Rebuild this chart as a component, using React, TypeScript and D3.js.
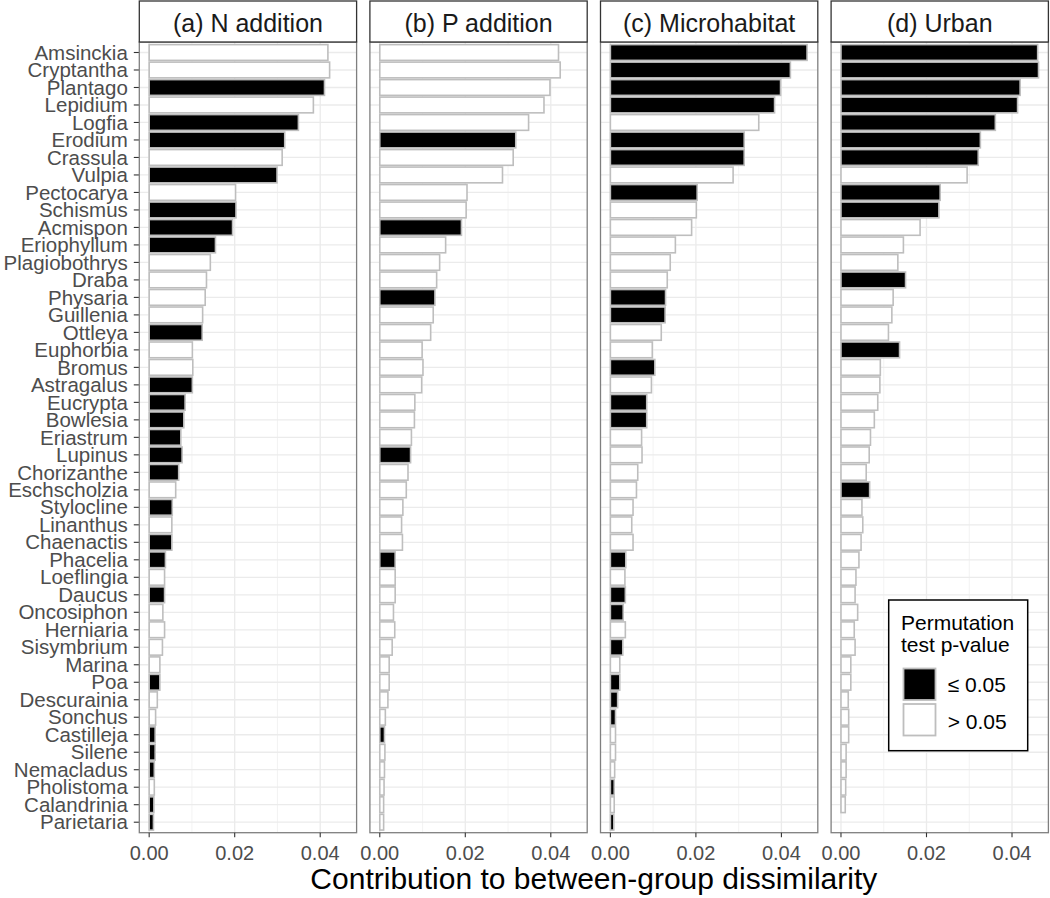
import React from "react";
import * as d3 from "d3";

const categories = [
  "Amsinckia", "Cryptantha", "Plantago", "Lepidium", "Logfia", "Erodium", "Crassula", "Vulpia",
  "Pectocarya", "Schismus", "Acmispon", "Eriophyllum", "Plagiobothrys", "Draba", "Physaria",
  "Guillenia", "Ottleya", "Euphorbia", "Bromus", "Astragalus", "Eucrypta", "Bowlesia", "Eriastrum",
  "Lupinus", "Chorizanthe", "Eschscholzia", "Stylocline", "Linanthus", "Chaenactis", "Phacelia",
  "Loeflingia", "Daucus", "Oncosiphon", "Herniaria", "Sisymbrium", "Marina", "Poa", "Descurainia",
  "Sonchus", "Castilleja", "Silene", "Nemacladus", "Pholistoma", "Calandrinia", "Parietaria",
];

const panelTitles = ["(a) N addition", "(b) P addition", "(c) Microhabitat", "(d) Urban"];

const nAddition = [
  0.0418, 0.0422, 0.0410, 0.0384, 0.0349, 0.0317, 0.0311, 0.0299, 0.0202, 0.0203, 0.0195, 0.0155,
  0.0143, 0.0134, 0.0131, 0.0125, 0.0124, 0.0101, 0.0102, 0.0101, 0.0084, 0.0081, 0.0074, 0.0077,
  0.0069, 0.0062, 0.0054, 0.0053, 0.0053, 0.0038, 0.0036, 0.0036, 0.0032, 0.0036, 0.0031, 0.0025,
  0.0025, 0.0019, 0.0015, 0.0014, 0.0014, 0.0012, 0.0012, 0.0011, 0.0010,
];
const nSig = [
  0, 0, 1, 0, 1, 1, 0, 1, 0, 1, 1, 1, 0, 0, 0, 0, 1, 0, 0, 1, 1, 1, 1, 1, 1, 0, 1, 0, 1, 1, 0, 1,
  0, 0, 0, 0, 1, 0, 0, 1, 1, 1, 0, 1, 1,
];

const pAddition = [
  0.0418, 0.0422, 0.0398, 0.0384, 0.0348, 0.0318, 0.0312, 0.0287, 0.0204, 0.0202, 0.0191, 0.0154,
  0.0140, 0.0133, 0.0129, 0.0125, 0.0119, 0.0099, 0.0101, 0.0098, 0.0082, 0.0081, 0.0074, 0.0072,
  0.0066, 0.0062, 0.0054, 0.0051, 0.0053, 0.0036, 0.0036, 0.0036, 0.0032, 0.0035, 0.0029, 0.0022,
  0.0022, 0.0019, 0.0013, 0.0011, 0.0012, 0.0011, 0.0010, 0.0009, 0.0009,
];
const pSig = [
  0, 0, 0, 0, 0, 1, 0, 0, 0, 0, 1, 0, 0, 0, 1, 0, 0, 0, 0, 0, 0, 0, 0, 1, 0, 0, 0, 0, 0, 1, 0, 0,
  0, 0, 0, 0, 0, 0, 0, 1, 0, 0, 0, 0, 0,
];

const microhabitat = [
  0.0460, 0.0421, 0.0398, 0.0384, 0.0347, 0.0313, 0.0313, 0.0287, 0.0203, 0.0201, 0.0190, 0.0152,
  0.0140, 0.0133, 0.0129, 0.0128, 0.0119, 0.0098, 0.0104, 0.0096, 0.0085, 0.0085, 0.0073, 0.0074,
  0.0064, 0.0061, 0.0053, 0.0050, 0.0053, 0.0036, 0.0034, 0.0035, 0.0030, 0.0035, 0.0029, 0.0022,
  0.0022, 0.0017, 0.0012, 0.0012, 0.0012, 0.0010, 0.0009, 0.0009, 0.0008,
];
const microSig = [
  1, 1, 1, 1, 0, 1, 1, 0, 1, 0, 0, 0, 0, 0, 1, 1, 0, 0, 1, 0, 1, 1, 0, 0, 0, 0, 0, 0, 0, 1, 0, 1,
  1, 0, 1, 0, 1, 1, 1, 0, 0, 0, 1, 0, 1,
];

const urban: (number | null)[] = [
  0.0460, 0.0462, 0.0419, 0.0413, 0.0361, 0.0326, 0.0321, 0.0295, 0.0232, 0.0229, 0.0185, 0.0146,
  0.0133, 0.0151, 0.0122, 0.0119, 0.0111, 0.0137, 0.0092, 0.0091, 0.0086, 0.0078, 0.0069, 0.0066,
  0.0059, 0.0067, 0.0049, 0.0051, 0.0047, 0.0042, 0.0035, 0.0033, 0.0039, 0.0031, 0.0033, 0.0023,
  0.0023, 0.0017, 0.0018, 0.0018, 0.0012, 0.0012, 0.0011, 0.0010, null,
];
const urbanSig = [
  1, 1, 1, 1, 1, 1, 1, 0, 1, 1, 0, 0, 0, 1, 0, 0, 0, 1, 0, 0, 0, 0, 0, 0, 0, 1, 0, 0, 0, 0, 0, 0,
  0, 0, 0, 0, 0, 0, 0, 0, 0, 0, 0, 0, 0,
];

const xTicks = [0, 0.02, 0.04];
const xMinor = [0.01, 0.03];
const legendLabels = ["\u2264 0.05", "> 0.05"];

const panelValues = [nAddition, pAddition, microhabitat, urban];
const panelSig = [nSig, pSig, microSig, urbanSig];

const FONT = "'Liberation Sans', Arial, Helvetica, sans-serif";

export default function App() {
  const W = 1050;
  const H = 898;
  const plotLeft = 139.3;
  const panelW = 217.3;
  const gap = 13.3;
  const stripTop = 1;
  const stripBottom = 42;
  const panelBottom = 832.7;

  const dataMax = d3.max(panelValues.flat().filter((v) => v != null) as number[]) as number;
  const x = d3
    .scaleLinear()
    .domain([-0.05 * dataMax, 1.05 * dataMax])
    .range([0, panelW]);

  const y = d3
    .scaleBand<string>()
    .domain(categories)
    .range([stripBottom, panelBottom])
    .paddingInner(0)
    .paddingOuter(0.1);
  const step = y.step();
  const center = (c: string) => (y(c) as number) + y.bandwidth() / 2;

  const fmt = d3.format(".2f");

  return (
    <svg
      width={W}
      height={H}
      style={{ position: "absolute", left: 0, top: 0, background: "#fff" }}
      fontFamily={FONT}
    >
      <rect x={0} y={0} width={W} height={H} fill="#fff" />
      {/* y axis labels and ticks */}
      {categories.map((c) => (
        <g key={c}>
          <line x1={plotLeft - 5.5} x2={plotLeft} y1={center(c)} y2={center(c)} stroke="#333" strokeWidth={1.1} />
          <text
            x={plotLeft - 11.5}
            y={center(c)}
            dy="0.35em"
            textAnchor="end"
            fontSize={20.5}
            fill="#4d4d4d"
          >
            {c}
          </text>
        </g>
      ))}
      {panelTitles.map((title, p) => {
        const left = plotLeft + p * (panelW + gap);
        const vals = panelValues[p];
        const sig = panelSig[p];
        return (
          <g key={title} transform={`translate(${left},0)`}>
            {/* grid */}
            {xMinor.map((t) => (
              <line key={"m" + t} x1={x(t)} x2={x(t)} y1={stripBottom} y2={panelBottom} stroke="#f0f0f0" strokeWidth={0.8} />
            ))}
            {categories.map((c) => (
              <line key={"h" + c} x1={0} x2={panelW} y1={center(c)} y2={center(c)} stroke="#ebebeb" strokeWidth={1.3} />
            ))}
            {xTicks.map((t) => (
              <line key={"g" + t} x1={x(t)} x2={x(t)} y1={stripBottom} y2={panelBottom} stroke="#ebebeb" strokeWidth={1.3} />
            ))}
            {/* bars */}
            {categories.map((c, i) => {
              const v = vals[i];
              if (v == null) return null;
              return (
                <rect
                  key={"b" + c}
                  x={x(0)}
                  y={center(c) - step * 0.45}
                  width={x(v) - x(0)}
                  height={step * 0.9}
                  fill={sig[i] ? "#000" : "#fff"}
                  stroke="#bebebe"
                  strokeWidth={1.6}
                />
              );
            })}
            {/* panel border */}
            <rect x={0} y={stripBottom} width={panelW} height={panelBottom - stripBottom} fill="none" stroke="#7f7f7f" strokeWidth={1.3} />
            {/* strip */}
            <rect x={0} y={stripTop} width={panelW} height={stripBottom - stripTop} fill="#fff" stroke="#333" strokeWidth={1.3} />
            <text x={panelW / 2} y={31.5} textAnchor="middle" fontSize={25} fill="#1a1a1a">
              {title}
            </text>
            {/* x axis */}
            {xTicks.map((t) => (
              <g key={"t" + t}>
                <line x1={x(t)} x2={x(t)} y1={panelBottom} y2={panelBottom + 4.5} stroke="#333" strokeWidth={1.1} />
                <text x={x(t)} y={860} textAnchor="middle" fontSize={20} fill="#4d4d4d">
                  {fmt(t)}
                </text>
              </g>
            ))}
          </g>
        );
      })}
      {/* axis title */}
      <text
        x={plotLeft + (4 * panelW + 3 * gap) / 2}
        y={889}
        textAnchor="middle"
        fontSize={30}
        fill="#000"
      >
        Contribution to between-group dissimilarity
      </text>
      {/* legend */}
      <g>
        <rect x={888.7} y={600} width={139} height={150.7} fill="#fff" stroke="#000" strokeWidth={1.5} />
        <text x={901} y={630} fontSize={21} fill="#000">Permutation</text>
        <text x={901} y={652} fontSize={21} fill="#000">test p-value</text>
        {legendLabels.map((lab, i) => (
          <g key={lab}>
            <rect
              x={903.5}
              y={668.5 + i * 35.5}
              width={32}
              height={31.5}
              fill={i === 0 ? "#000" : "#fff"}
              stroke="#bebebe"
              strokeWidth={1.8}
            />
            <text x={947.7} y={684.5 + i * 36.8} dy="0.35em" fontSize={21} fill="#000">
              {lab}
            </text>
          </g>
        ))}
      </g>
    </svg>
  );
}
